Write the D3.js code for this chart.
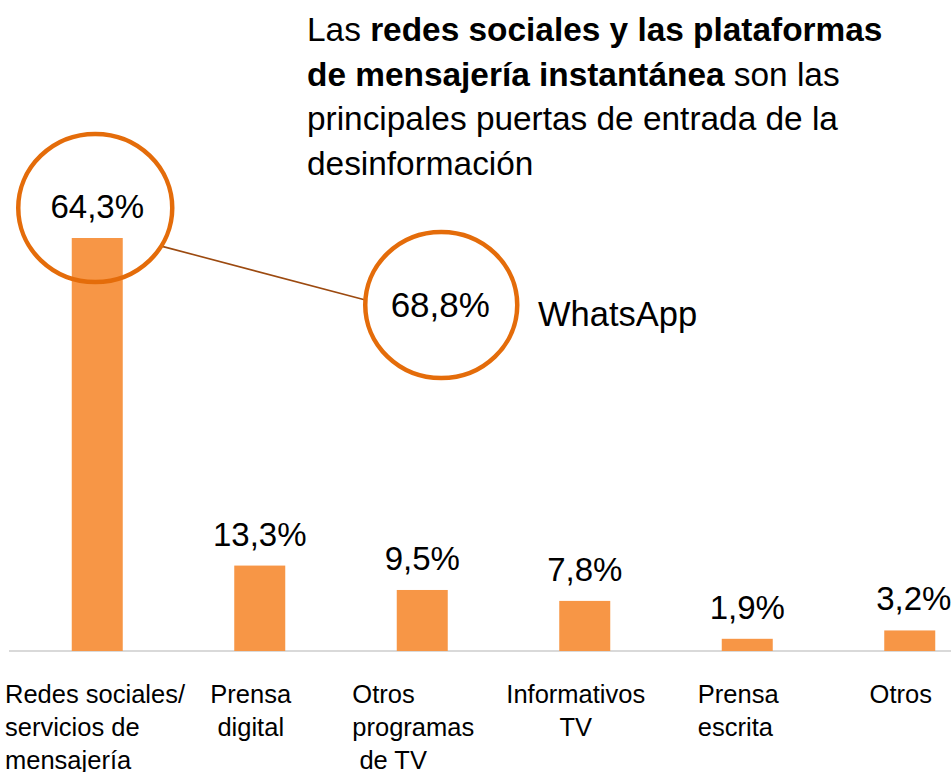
<!DOCTYPE html>
<html>
<head>
<meta charset="utf-8">
<script src="https://cdn.jsdelivr.net/npm/d3@7"></script>
<style>
  body { margin: 0; background: #fff; }
  svg { display: block; }
  text { font-family: "Liberation Sans", Arial, sans-serif; fill: #000; }
</style>
</head>
<body>
<svg id="chart" width="951" height="772"></svg>
<script>
// data
var categories = ["Redes sociales", "Prensa digital", "Otros programas de TV", "Informativos TV", "Prensa escrita", "Otros"];
var categoryLines = [
  ["Redes sociales/", "servicios de", "mensajería"],
  ["Prensa", " digital"],
  ["Otros", "programas", " de TV"],
  ["Informativos", "TV"],
  ["Prensa", "escrita"],
  ["Otros"]
];
var labelAlign = ["start", "start", "start", "middle", "start", "middle"];
var values = [64.3, 13.3, 9.5, 7.8, 1.9, 3.2];
var whatsappValue = 68.8;
var whatsappLabel = "WhatsApp";

var fmt = function(v){ return d3.format(".1f")(v).replace(".", ",") + "%"; };

var svg = d3.select("#chart");

var barColor = "#F79646",
    ringColor = "#E46C0A",
    leaderColor = "#9C4A10",
    barWidth = 51,
    catSize = 25.5;

var x = d3.scalePoint()
    .domain(categories)
    .range([16, 991])
    .padding(0.5);

var y = d3.scaleLinear()
    .domain([0, 64.3])
    .range([651, 238]);

// baseline
svg.append("line")
    .attr("x1", 9).attr("x2", 951)
    .attr("y1", y(0)).attr("y2", y(0))
    .attr("stroke", "#d9d9d9")
    .attr("stroke-width", 2);

// bars
svg.selectAll("rect.bar")
    .data(values)
    .enter()
    .append("rect")
    .attr("class", "bar")
    .attr("x", function(d,i){ return x(categories[i]) - barWidth/2; })
    .attr("y", function(d){ return y(d); })
    .attr("width", barWidth)
    .attr("height", function(d){ return y(0) - y(d); })
    .attr("fill", barColor);

// value labels
svg.selectAll("text.val")
    .data(values)
    .enter()
    .append("text")
    .attr("class", "val")
    .attr("x", function(d,i){ return x(categories[i]) + (i == 5 ? 4 : 0); })
    .attr("y", function(d){ return y(d) - 20; })
    .attr("text-anchor", "middle")
    .attr("font-size", "33px")
    .text(function(d){ return fmt(d); });

// category labels
var cat = svg.selectAll("text.cat")
    .data(categoryLines)
    .enter()
    .append("text")
    .attr("class", "cat")
    .attr("font-size", catSize + "px")
    .attr("xml:space", "preserve")
    .style("white-space", "pre");

cat.each(function(lines, i){
    var t = d3.select(this);
    var cx = x(categories[i]) - 9;
    // widest line, for the left aligned blocks
    var widest = 0;
    lines.forEach(function(l){
        var tmp = svg.append("text").attr("font-size", catSize + "px").text(l.trim());
        widest = Math.max(widest, tmp.node().getComputedTextLength());
        tmp.remove();
    });
    lines.forEach(function(l, j){
        t.append("tspan")
            .attr("x", labelAlign[i] == "start" ? cx - widest/2 : cx)
            .attr("y", 703 + j*33)
            .attr("text-anchor", labelAlign[i])
            .text(l);
    });
});
// first label sits at left edge
svg.select("text.cat").selectAll("tspan").attr("x", 5);

// annotation rings
var ring1 = { cx: x(categories[0]) - 2, cy: y(values[0]) - 30, rx: 77, ry: 74 };
var ring2 = { cx: x(categories[2]) + 19, cy: y(values[0]) + 67, rx: 76, ry: 73 };

function edge(r, deg){
    var a = deg * Math.PI / 180;
    return [r.cx + r.rx*Math.cos(a), r.cy + r.ry*Math.sin(a)];
}
var p1 = edge(ring1, 31), p2 = edge(ring2, 184);

svg.append("line")
    .attr("x1", p1[0]).attr("y1", p1[1])
    .attr("x2", p2[0]).attr("y2", p2[1])
    .attr("stroke", leaderColor)
    .attr("stroke-width", 1.6);

svg.selectAll("ellipse.ring")
    .data([ring1, ring2])
    .enter()
    .append("ellipse")
    .attr("class", "ring")
    .attr("cx", function(d){ return d.cx; })
    .attr("cy", function(d){ return d.cy; })
    .attr("rx", function(d){ return d.rx; })
    .attr("ry", function(d){ return d.ry; })
    .attr("fill", "none")
    .attr("stroke", ringColor)
    .attr("stroke-width", 4.5);

svg.append("text")
    .attr("x", ring2.cx - 1)
    .attr("y", ring2.cy + 12)
    .attr("text-anchor", "middle")
    .attr("font-size", "35px")
    .text(fmt(whatsappValue));

svg.append("text")
    .attr("x", 538)
    .attr("y", ring2.cy + 21)
    .attr("font-size", "34.5px")
    .text(whatsappLabel);

// title
var titleLines = [
  [["Las ", false], ["redes sociales y las plataformas", true]],
  [["de mensajería instantánea", true], [" son las", false]],
  [["principales puertas de entrada de la", false]],
  [["desinformación", false]]
];
var title = svg.append("text")
    .attr("font-size", "33.4px")
    .attr("xml:space", "preserve")
    .style("white-space", "pre");
titleLines.forEach(function(line, j){
    line.forEach(function(part, k){
        var ts = title.append("tspan")
            .attr("font-weight", part[1] ? "bold" : "normal")
            .text(part[0]);
        if (k == 0) ts.attr("x", 307).attr("y", 41 + j*44.5);
    });
});
</script>
</body>
</html>
